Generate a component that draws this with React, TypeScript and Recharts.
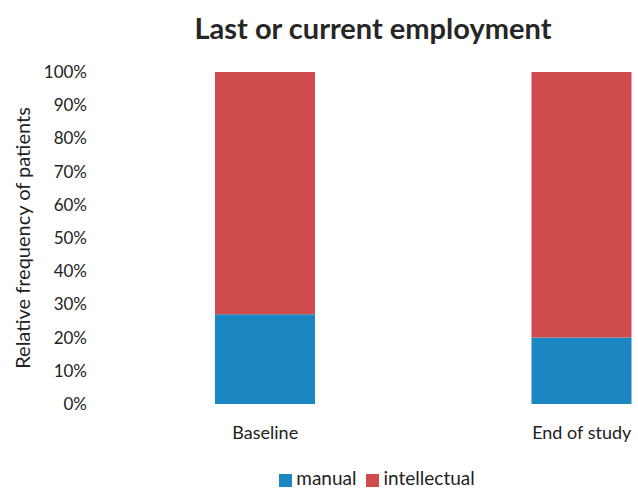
import React from "react";
import {Bar, BarChart, Legend, XAxis, YAxis} from "recharts";

const categories = ["Baseline", "End of study"];
const manual = [27, 20];
const intellectual = [73, 80];
const yTicks = [0, 10, 20, 30, 40, 50, 60, 70, 80, 90, 100];
const seriesOrder = ["manual", "intellectual"];

const data = categories.map((name, i) => ({
   name,
   manual: manual[i],
   intellectual: intellectual[i],
}));

const FONT = "Lato, 'Open Sans', sans-serif";

const YLabel = () => (
   <text
      x={0}
      y={0}
      transform="translate(22, 238) rotate(-90)"
      textAnchor="middle"
      dominantBaseline="central"
      fontFamily={FONT}
      fontSize={20}
      fill="#222"
   >
      Relative frequency of patients
   </text>
);

const App: React.FC = () => {
   return (
      <div style={{position: "absolute", left: 0, top: 0, width: 638, height: 493, overflow: "hidden", background: "#fff"}}>
         <div
            style={{
               position: "absolute",
               left: 0,
               width: 746,
               top: 10,
               textAlign: "center",
               fontFamily: FONT,
               fontWeight: 700,
               fontSize: 29,
               color: "#262626",
            }}
         >
            Last or current employment
         </div>
         <BarChart
            width={760}
            height={493}
            data={data}
            margin={{top: 72, right: 20, left: 0, bottom: 4}}
            barSize={100}
         >
            <XAxis
               dataKey="name"
               tickLine={false}
               axisLine={false}
               tickSize={0}
               tickMargin={22}
               height={62}
               tick={{fontFamily: FONT, fontSize: 18, fill: "#222"}}
            />
            <YAxis
               width={107}
               domain={[0, 100]}
               ticks={yTicks}
               interval={0}
               tickFormatter={(v: number) => `${v}%`}
               tickLine={false}
               axisLine={false}
               tickSize={0}
               tickMargin={20}
               tick={{fontFamily: FONT, fontSize: 17, fill: "#222"}}
               label={<YLabel/>}
            />
            <Legend
               verticalAlign="bottom"
               iconType="square"
               iconSize={13}
               itemSorter={(item: any) => seriesOrder.indexOf(item.dataKey)}
               wrapperStyle={{fontFamily: FONT, fontSize: 19, color: "#222", left: 12}}
               formatter={(value: string) => <span style={{color: "#222"}}>{value}</span>}
            />
            <Bar dataKey="manual" stackId="a" fill="#1b87c2" isAnimationActive={false}/>
            <Bar dataKey="intellectual" stackId="a" fill="#d04b4c" isAnimationActive={false}/>
         </BarChart>
      </div>
   );
};

export default App;
